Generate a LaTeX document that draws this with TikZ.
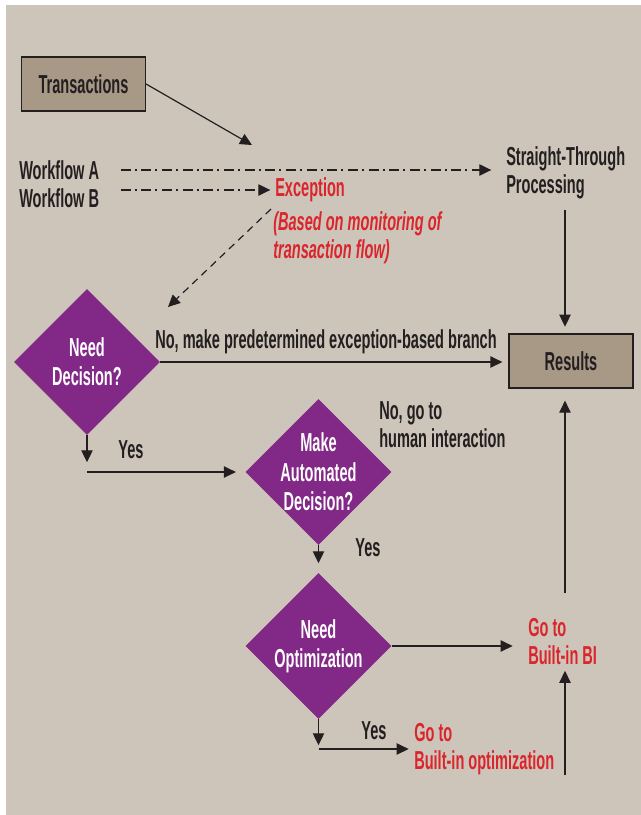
\documentclass[tikz,border=0pt]{standalone}
\usepackage{fontspec}
\setmainfont{Liberation Sans}[FakeStretch=0.56]
\usetikzlibrary{arrows.meta,shapes.geometric}
\definecolor{bgtan}{HTML}{CEC5BA}
\definecolor{boxtan}{HTML}{A89886}
\definecolor{decpurple}{HTML}{822887}
\definecolor{excred}{HTML}{DA252C}
\definecolor{ink}{HTML}{231F20}
\newcommand{\flowfont}{\fontsize{19.5}{21}\selectfont\bfseries}
\newcommand{\diafont}{\fontsize{19.5}{22}\selectfont\bfseries}
\begin{document}
\begin{tikzpicture}[x=0.75pt,y=-0.75pt,
  font=\flowfont, text=ink,
  box/.style={draw=ink,line width=0.9pt,fill=boxtan,minimum width=93pt,minimum height=40.5pt},
  dia/.style={diamond,fill=decpurple,minimum width=109.5pt,minimum height=109.5pt,inner sep=0pt},
  diatext/.style={text=white,align=center,inner sep=0pt,font=\diafont},
  txt/.style={inner sep=0pt,align=left},
  redtxt/.style={txt,text=excred},
  flow/.style={draw=ink,line width=0.9pt,-{Triangle[length=9pt,width=8.5pt]}},
  dashdot/.style={flow,dash pattern=on 7.5pt off 3pt on 1.5pt off 3.5pt},
  dashflow/.style={flow,dash pattern=on 5.5pt off 4pt}]
  \useasboundingbox (0,0) rectangle (641,815);
  \fill[bgtan] (6,5) rectangle (641,815);
  \coordinate (xr) at (565,0);
  % boxes
  \node[box] (trans) at (83.5,84) {Transactions};
  \node[box] (results) at (571,361) {Results};
  % workflows and exception
  \node[txt,anchor=west] (wfa) at (19,170) {Workflow A};
  \node[txt,anchor=west] (wfb) at (19,198) {Workflow B};
  \node[redtxt,anchor=west] (exc) at (275,190) {Exception};
  \node[redtxt,anchor=west,font=\flowfont\itshape] (excnote) at (273,238) {(Based on monitoring of\\transaction flow)};
  \node[txt,anchor=west] (stp) at (506,173) {Straight-Through\\Processing};
  \coordinate (dtip) at (168,307);
  % decisions
  \node[dia] (nd) at (87,362) {};
  \node[diatext] at (nd) {Need\\Decision?};
  \node[dia] (mad) at (318.5,472) {};
  \node[diatext] at (mad) {Make\\Automated\\Decision?};
  \node[dia] (nopt) at (318.5,646) {};
  \node[diatext] at (nopt) {Need\\Optimization};
  \node[redtxt,anchor=west] (bi) at (528,642) {Go to\\Built-in BI};
  \node[redtxt,anchor=west] (bopt) at (414,749) {Go to\\Built-in optimization};
  % labels
  \node[txt] (lbno) at (326,342) {No, make predetermined exception-based branch};
  \node[txt] (lbyes1) at (131,450) {Yes};
  \node[txt,anchor=west] (lbhuman) at (379,425) {No, go to\\human interaction};
  \node[txt] (lbyes2) at (368,548) {Yes};
  \node[txt] (lbyes3) at (374,731) {Yes};
  % connectors
  \draw[flow] (trans.east) -- (252,145);
  \draw[dashdot,shorten <=16pt,shorten >=11pt] (wfa.east) -- (wfa.east -| stp.west);
  \draw[dashdot,shorten <=16pt,shorten >=3.5pt] (wfb.east |- exc.west) -- (exc.west);
  \draw[dashflow] ([xshift=-3pt,yshift=-5pt]exc.south west) -- (dtip);
  \draw[flow,shorten <=8pt,shorten >=5pt] (stp.south -| xr) -- (results.north -| xr);
  \draw[flow,shorten >=4.5pt] (nd.east) -- (nd.east -| results.west);
  \draw[flow] (nd.south) -- ++(0,27);
  \draw[flow,shorten >=7pt] (nd.south |- mad.west) -- (mad.west);
  \draw[flow] (mad.south) -- ++(0,18);
  \draw[flow,shorten >=11.5pt] (nopt.east) -- (nopt.east -| bi.west);
  \draw[flow] (nopt.south) -- ++(0,26);
  \draw[flow,shorten >=4pt] (nopt.south |- bopt.west) -- (bopt.west);
  \draw[flow,shorten >=4pt] (bopt.south -| xr) -- (bi.south -| xr);
  \draw[flow,shorten <=19pt,shorten >=9pt] (bi.north -| xr) -- (results.south -| xr);
\end{tikzpicture}
\end{document}
